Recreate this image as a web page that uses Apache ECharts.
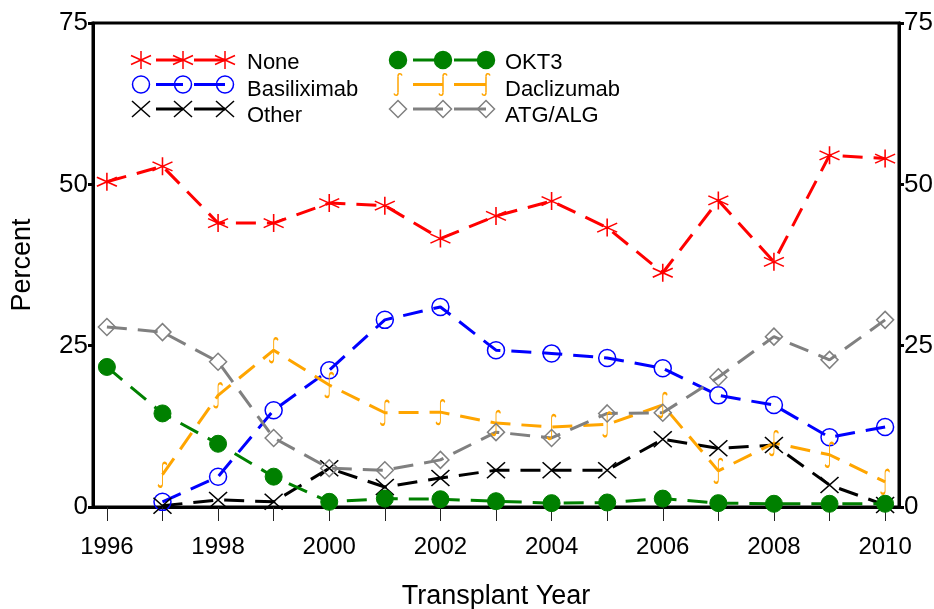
<!DOCTYPE html>
<html>
<head>
<meta charset="utf-8">
<script src="https://cdn.jsdelivr.net/npm/echarts@6/dist/echarts.min.js"></script>
<style>html,body{margin:0;padding:0;background:#fff;}#c{width:934px;height:609px;}</style>
</head>
<body>
<div id="c"></div>
<script>
// ---- data ----
const years = [1996,1997,1998,1999,2000,2001,2002,2003,2004,2005,2006,2007,2008,2009,2010];
const years97 = [1997,1998,1999,2000,2001,2002,2003,2004,2005,2006,2007,2008,2009,2010];
const noneVals = [50.4,52.8,44.0,44.0,47.1,46.7,41.6,45.1,47.4,43.3,36.3,47.5,38.0,54.5,54.0];
const basiliximabVals = [0.8,4.7,15.0,21.2,29.0,31.0,24.3,23.8,23.1,21.5,17.3,15.8,10.8,12.4];
const otherVals = [0.2,1.1,0.8,6.0,3.1,4.5,5.7,5.7,5.7,10.5,9.1,9.6,3.4,0.3];
const okt3Vals = [21.7,14.5,9.8,4.7,0.8,1.3,1.2,0.9,0.6,0.7,1.3,0.6,0.5,0.5,0.5];
const daclizumabVals = [5.0,17.3,24.3,18.9,14.6,14.7,13.0,12.4,12.8,15.8,5.6,9.9,8.1,3.9];
const atgVals = [27.9,27.1,22.5,10.7,6.0,5.7,7.3,11.6,10.7,14.5,14.6,20.1,26.4,22.8,29.0];
const xLabelYears = [1996,1998,2000,2002,2004,2006,2008,2010];

// ---- styles ----
const FONT = "'Liberation Sans', Arial, Helvetica, sans-serif";
const STAR = 'M0,-10L0,10M-8.66,-5L8.66,5M-8.66,5L8.66,-5';
const XMARK = 'M-10,-10L10,10M-10,10L10,-10';
const SHOOK = 'M8,3C7,0.5 4,0.5 4,4L4,20C4,23.5 1,23.5 0,21';
const DIAMOND = 'M0,-10L10,0L0,10L-10,0Z';

const seriesDefs = [
  {name:'None', x:years, y:noneVals, color:'#ff0000', sym:'star', size:[20,18]},
  {name:'Basiliximab', x:years97, y:basiliximabVals, color:'#0000ff', sym:'ocircle', size:[17,17]},
  {name:'Other', x:years97, y:otherVals, color:'#000000', sym:'x', size:[18,16]},
  {name:'OKT3', x:years, y:okt3Vals, color:'#008000', sym:'fcircle', size:[17,17]},
  {name:'Daclizumab', x:years97, y:daclizumabVals, color:'#ffa500', sym:'s', size:[9,24]},
  {name:'ATG/ALG', x:years, y:atgVals, color:'#808080', sym:'diamond', size:[17,17]}
];

function symbolOf(kind){
  switch(kind){
    case 'star': return 'path://'+STAR;
    case 'x': return 'path://'+XMARK;
    case 's': return 'path://'+SHOOK;
    case 'diamond': return 'path://'+DIAMOND;
    default: return 'circle';
  }
}

const series = seriesDefs.map(d => ({
  name: d.name,
  type: 'line',
  data: d.y.map((v,i) => [d.x[i], v]),
  symbol: symbolOf(d.sym),
  symbolSize: d.size,
  showAllSymbol: true,
  lineStyle: {color: d.color, width: 3, type: [20, 11]},
  itemStyle: d.sym === 'fcircle'
    ? {color: d.color, borderColor: d.color, borderWidth: 1}
    : {color: 'rgba(0,0,0,0)', borderColor: d.color, borderWidth: 1.5},
  emphasis: {disabled: true},
  z: 2
}));

// legend icons (three markers joined by dashes)
function seg(x1,y1,x2,y2,color,w){
  return {type:'line', shape:{x1:x1,y1:y1,x2:x2,y2:y2}, style:{stroke:color, lineWidth:w||1.5}, silent:true, z:10};
}
function markerGraphic(kind, cx, cy, size, color){
  const w = size[0], h = size[1];
  const hw = w/2, hh = h/2;
  if (kind === 'ocircle' || kind === 'fcircle') {
    return [{type:'circle', shape:{cx:cx, cy:cy, r:hw},
      style:{fill: kind==='fcircle'?color:'rgba(0,0,0,0)', stroke:color, lineWidth:1.5}, silent:true, z:10}];
  }
  if (kind === 'star') {
    return [seg(cx,cy-hh,cx,cy+hh,color), seg(cx-hw,cy-hh/2,cx+hw,cy+hh/2,color), seg(cx-hw,cy+hh/2,cx+hw,cy-hh/2,color)];
  }
  if (kind === 'x') {
    return [seg(cx-hw,cy-hh,cx+hw,cy+hh,color), seg(cx-hw,cy+hh,cx+hw,cy-hh,color)];
  }
  if (kind === 'diamond') {
    return [{type:'polygon', shape:{points:[[cx,cy-hh],[cx+hw,cy],[cx,cy+hh],[cx-hw,cy]]},
      style:{fill:'rgba(0,0,0,0)', stroke:color, lineWidth:1.5}, silent:true, z:10}];
  }
  return [
    {type:'bezierCurve', shape:{x1:cx+4,y1:cy-9,cpx1:cx+3,cpy1:cy-11.5,cpx2:cx,cpy2:cy-11.5,x2:cx,y2:cy-8},
      style:{stroke:color, lineWidth:1.5, fill:null}, silent:true, z:10},
    seg(cx,cy-8,cx,cy+8,color),
    {type:'bezierCurve', shape:{x1:cx,y1:cy+8,cpx1:cx,cpy1:cy+11.5,cpx2:cx-3,cpy2:cy+11.5,x2:cx-4,y2:cy+9},
      style:{stroke:color, lineWidth:1.5, fill:null}, silent:true, z:10}
  ];
}
const legendCols = [[141,183,225],[398,443,486]];
const legendRowY = [60, 84.5, 109];
const graphics = [];
seriesDefs.forEach((d, idx) => {
  const col = legendCols[idx < 3 ? 0 : 1];
  const y = legendRowY[idx % 3];
  graphics.push(seg(col[0]+15, y, col[1], y, d.color, 3));
  graphics.push(seg(col[1]+11, y, col[2], y, d.color, 3));
  col.forEach(cx => markerGraphic(d.sym, cx, y, d.size, d.color).forEach(g => graphics.push(g)));
});

const legendBase = {
  orient:'vertical', top:47, itemWidth:100, itemHeight:20, itemGap:4.5,
  icon:'rect', itemStyle:{color:'rgba(0,0,0,0)', borderWidth:0, opacity:0},
  lineStyle:{opacity:0},
  textStyle:{fontSize:22, lineHeight:20, fontFamily:FONT, color:'#000'}, selectedMode:false
};

const yAxisBase = {
  type:'value', min:0, max:75, interval:25,
  axisLine:{show:true, lineStyle:{color:'#000', width:3}},
  axisTick:{show:true, length:5, lineStyle:{color:'#000', width:3}},
  axisLabel:{fontSize:26, fontFamily:FONT, color:'#000', margin:5},
  splitLine:{show:false}
};

const option = {
  animation:false,
  backgroundColor:'#fff',
  grid:{left:93, right:35, top:23, bottom:102, show:true, borderColor:'#000', borderWidth:3,
    containLabel:false, outerBoundsMode:'none'},
  xAxis:{
    type:'value', min:1995.75, max:2010.25,
    name:'Transplant Year', nameLocation:'middle', nameGap:76,
    nameTextStyle:{fontSize:27, fontFamily:FONT, color:'#000'},
    axisLine:{show:true, onZero:false, lineStyle:{color:'#000', width:3}},
    axisTick:{show:true, length:14, customValues: years, lineStyle:{color:'#222', width:1}},
    axisLabel:{fontSize:24, fontFamily:FONT, color:'#000', margin:28, customValues: xLabelYears,
      formatter: v => String(v)},
    splitLine:{show:false}
  },
  yAxis:[
    Object.assign({}, yAxisBase, {position:'left', name:'Percent', nameLocation:'middle', nameGap:57,
      nameTextStyle:{fontSize:27, fontFamily:FONT, color:'#000'}}),
    Object.assign({}, yAxisBase, {position:'right'})
  ],
  legend:[
    Object.assign({}, legendBase, {left:137, data:['None','Basiliximab','Other']}),
    Object.assign({}, legendBase, {left:395, data:['OKT3','Daclizumab','ATG/ALG']})
  ],
  graphic: graphics,
  series: series
};

const chart = echarts.init(document.getElementById('c'), null, {renderer:'canvas'});
chart.setOption(option);
</script>
</body>
</html>
